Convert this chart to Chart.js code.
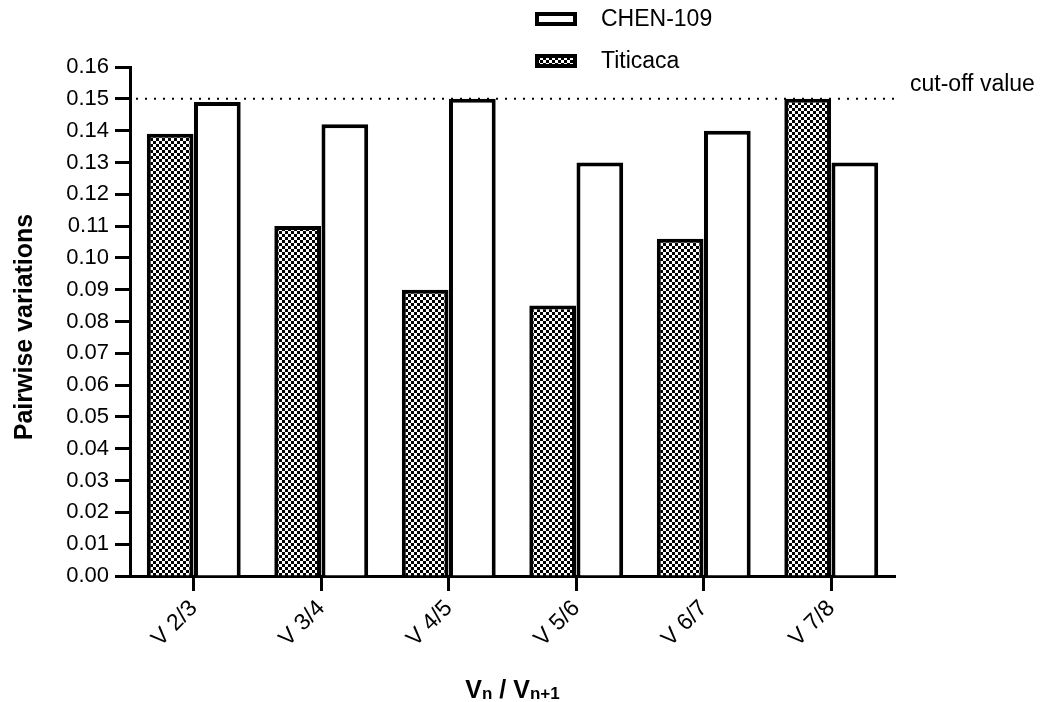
<!DOCTYPE html>
<html lang="en">
<head>
    <meta charset="UTF-8">
    <title>Pairwise variations</title>
    <script src="https://cdn.jsdelivr.net/npm/chart.js"></script>
    <style>
        body { margin: 0; padding: 0; background: #ffffff; }
        #wrap { width: 1055px; height: 702px; position: relative; }
    </style>
</head>
<body>
    <div id="wrap"><canvas id="chart"></canvas></div>

    <script>
        // Data
        const categories = ['V 2/3', 'V 3/4', 'V 4/5', 'V 5/6', 'V 6/7', 'V 7/8'];
        const titicaca = [0.139, 0.110, 0.090, 0.085, 0.106, 0.150];
        const chen109 = [0.149, 0.142, 0.150, 0.130, 0.140, 0.130];
        const cutOff = 0.15;
        const yMin = 0, yMax = 0.16, yStep = 0.01;

        const FONT = 'Arial, "Liberation Sans", sans-serif';

        // checkerboard fill for Titicaca
        function checker() {
            const c = document.createElement('canvas');
            c.width = 6; c.height = 6;
            const g = c.getContext('2d');
            g.fillStyle = '#fff';
            g.fillRect(0, 0, 6, 6);
            g.fillStyle = '#000';
            g.fillRect(0, 0, 3, 3);
            g.fillRect(3, 3, 3, 3);
            return document.getElementById('chart').getContext('2d').createPattern(c, 'repeat');
        }
        const checkPattern = checker();

        // cut-off line, legend and axis titles
        const extras = {
            id: 'extras',
            afterDatasetsDraw(chart) {
                const ctx = chart.ctx;
                const y = chart.scales.y.getPixelForValue(cutOff);
                const area = chart.chartArea;
                ctx.save();
                ctx.strokeStyle = '#000';
                ctx.lineWidth = 2;
                ctx.setLineDash([2, 7]);
                ctx.beginPath();
                ctx.moveTo(area.left + 6, y);
                ctx.lineTo(area.right, y);
                ctx.stroke();
                ctx.setLineDash([]);
                ctx.fillStyle = '#000';
                ctx.font = '23px ' + FONT;
                ctx.textBaseline = 'middle';
                ctx.fillText('cut-off value', 910, y - 14);
                ctx.restore();
            },
            afterDraw(chart) {
                const ctx = chart.ctx;
                ctx.save();
                // legend
                const items = [
                    { label: 'CHEN-109', fill: '#fff', y: 19 },
                    { label: 'Titicaca', fill: checkPattern, y: 61 }
                ];
                items.forEach(it => {
                    ctx.fillStyle = it.fill;
                    ctx.fillRect(537, it.y - 5, 38, 10);
                    ctx.strokeStyle = '#000';
                    ctx.lineWidth = 4;
                    ctx.strokeRect(537, it.y - 5, 38, 10);
                    ctx.fillStyle = '#000';
                    ctx.font = '23px ' + FONT;
                    ctx.textBaseline = 'middle';
                    ctx.textAlign = 'left';
                    ctx.fillText(it.label, 601, it.y + 1);
                });
                // y title
                ctx.save();
                ctx.translate(25, 327);
                ctx.rotate(-Math.PI / 2);
                ctx.font = 'bold 25px ' + FONT;
                ctx.textAlign = 'center';
                ctx.textBaseline = 'middle';
                ctx.fillText('Pairwise variations', 0, 0);
                ctx.restore();
                // x title with subscripts
                const parts = [
                    { t: 'V', f: 'bold 25px ', dy: 0 },
                    { t: 'n', f: 'bold 17px ', dy: 1 },
                    { t: ' / ', f: 'bold 25px ', dy: 0 },
                    { t: 'V', f: 'bold 25px ', dy: 0 },
                    { t: 'n+1', f: 'bold 17px ', dy: 1 }
                ];
                let w = 0;
                parts.forEach(p => { ctx.font = p.f + FONT; w += ctx.measureText(p.t).width; });
                const area = chart.chartArea;
                let x = (area.left + area.right) / 2 - w / 2;
                ctx.textBaseline = 'alphabetic';
                parts.forEach(p => {
                    ctx.font = p.f + FONT;
                    ctx.fillText(p.t, x, 698 + p.dy);
                    x += ctx.measureText(p.t).width;
                });
                ctx.restore();
            }
        };

        new Chart(document.getElementById('chart'), {
            type: 'bar',
            data: {
                labels: categories,
                datasets: [
                    {
                        label: 'Titicaca',
                        data: titicaca,
                        backgroundColor: checkPattern,
                        borderColor: '#000',
                        borderWidth: 4
                    },
                    {
                        label: 'CHEN-109',
                        data: chen109,
                        backgroundColor: '#fff',
                        borderColor: '#000',
                        borderWidth: 4
                    }
                ]
            },
            options: {
                responsive: true,
                maintainAspectRatio: false,
                animation: false,
                layout: { padding: { top: 67, right: 160, bottom: 0, left: 0 } },
                plugins: {
                    legend: { display: false },
                    tooltip: { enabled: false }
                },
                datasets: {
                    bar: { categoryPercentage: 0.74, barPercentage: 0.99 }
                },
                scales: {
                    x: {
                        afterFit(scale) { scale.height = 126; },
                        grid: {
                            offset: false,
                            drawOnChartArea: false,
                            drawTicks: true,
                            tickLength: 15,
                            tickWidth: 3,
                            tickColor: '#000'
                        },
                        border: { display: true, color: '#000', width: 3 },
                        ticks: {
                            color: '#000',
                            font: { family: FONT, size: 23 },
                            minRotation: 45,
                            maxRotation: 45,
                            padding: 4
                        }
                    },
                    y: {
                        min: yMin,
                        max: yMax,
                        afterFit(scale) { scale.width = 130; },
                        grid: {
                            drawOnChartArea: false,
                            drawTicks: true,
                            tickLength: 15,
                            tickWidth: 3,
                            tickColor: '#000'
                        },
                        border: { display: true, color: '#000', width: 3 },
                        ticks: {
                            stepSize: yStep,
                            color: '#000',
                            font: { family: FONT, size: 22 },
                            padding: 6,
                            callback: v => v.toFixed(2)
                        }
                    }
                }
            },
            plugins: [extras]
        });
    </script>
</body>
</html>
